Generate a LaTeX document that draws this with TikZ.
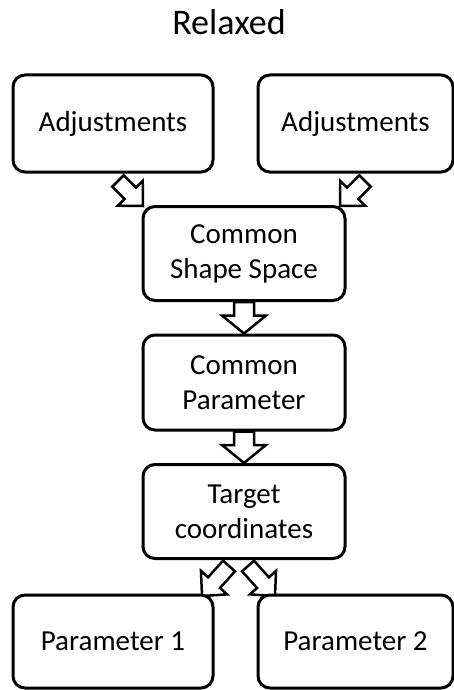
\documentclass[tikz,border=0pt]{standalone}
\usepackage{fontspec}
\setmainfont{Carlito}
\usetikzlibrary{calc}
\tikzset{blockarrow/.style={draw, fill=white, line width=2.5pt, line join=miter}}
\pgfdeclarelayer{background}
\pgfsetlayers{background,main}

% hollow block arrow from #2 (tail) to #3 (tip), #1 scales its width
\newcommand{\blockarrow}[3][1]{%
	\draw[blockarrow] ($(#2)!#1*10pt!-90:(#3)$) -- ($(#3)!18pt!(#2)!#1*10pt!90:(#2)$)
		-- ($(#3)!18pt!(#2)!#1*22pt!90:(#2)$) -- (#3)
		-- ($(#3)!18pt!(#2)!#1*22pt!-90:(#2)$) -- ($(#3)!18pt!(#2)!#1*10pt!-90:(#2)$)
		-- ($(#2)!#1*10pt!90:(#3)$) -- cycle;
}

\begin{document}
\begin{tikzpicture}[x=1pt, y=-1pt]
	% Default action for each node
	\tikzstyle{every node}=[draw, shape=rectangle, rounded corners=12pt, line width=3pt, fill=white, minimum height=94pt, inner sep=0pt, align=center, font=\fontsize{29}{35}\selectfont];

	\useasboundingbox (0,0) rectangle (454,690);

	\node[draw=none, fill=none, minimum height=0pt, font=\fontsize{36}{43}\selectfont, anchor=base] (title) at (229,35) {Relaxed};

	\node[minimum width=200pt, minimum height=97pt] (adj1) at (113,123.5) {Adjustments};		\node[minimum width=195pt, minimum height=97pt] (adj2) at (355.5,123.5) {Adjustments};
								\node[minimum width=202pt] (css) at (244,253.5) {Common\\Shape Space};
								\node[minimum width=202pt, minimum height=95pt] (cp) at (244,382.5) {Common\\Parameter};
								\node[minimum width=202pt] (tc) at (244,511.5) {Target\\coordinates};
	\node[minimum width=200pt, minimum height=93pt] (par1) at (113,641.5) {Parameter 1};		\node[minimum width=195pt, minimum height=93pt] (par2) at (355.5,641.5) {Parameter 2};

	\coordinate (adj1out) at (118,181);	\coordinate (cssinleft) at (143,206);
	\coordinate (adj2out) at (365,181);	\coordinate (cssinright) at (340,206);
	\coordinate (tcoutleft) at (229,566);	\coordinate (par1in) at (202,596);
	\coordinate (tcoutright) at (248,566);	\coordinate (par2in) at (275,596);

	\begin{pgfonlayer}{background}
		\blockarrow[0.8]{adj1out}{cssinleft}
		\blockarrow[0.8]{adj2out}{cssinright}
		\blockarrow{css.south}{cp.north}
		\blockarrow{cp.south}{tc.north}
		\blockarrow[0.8]{tcoutleft}{par1in}
		\blockarrow[0.8]{tcoutright}{par2in}
	\end{pgfonlayer}

\end{tikzpicture}
\end{document}
